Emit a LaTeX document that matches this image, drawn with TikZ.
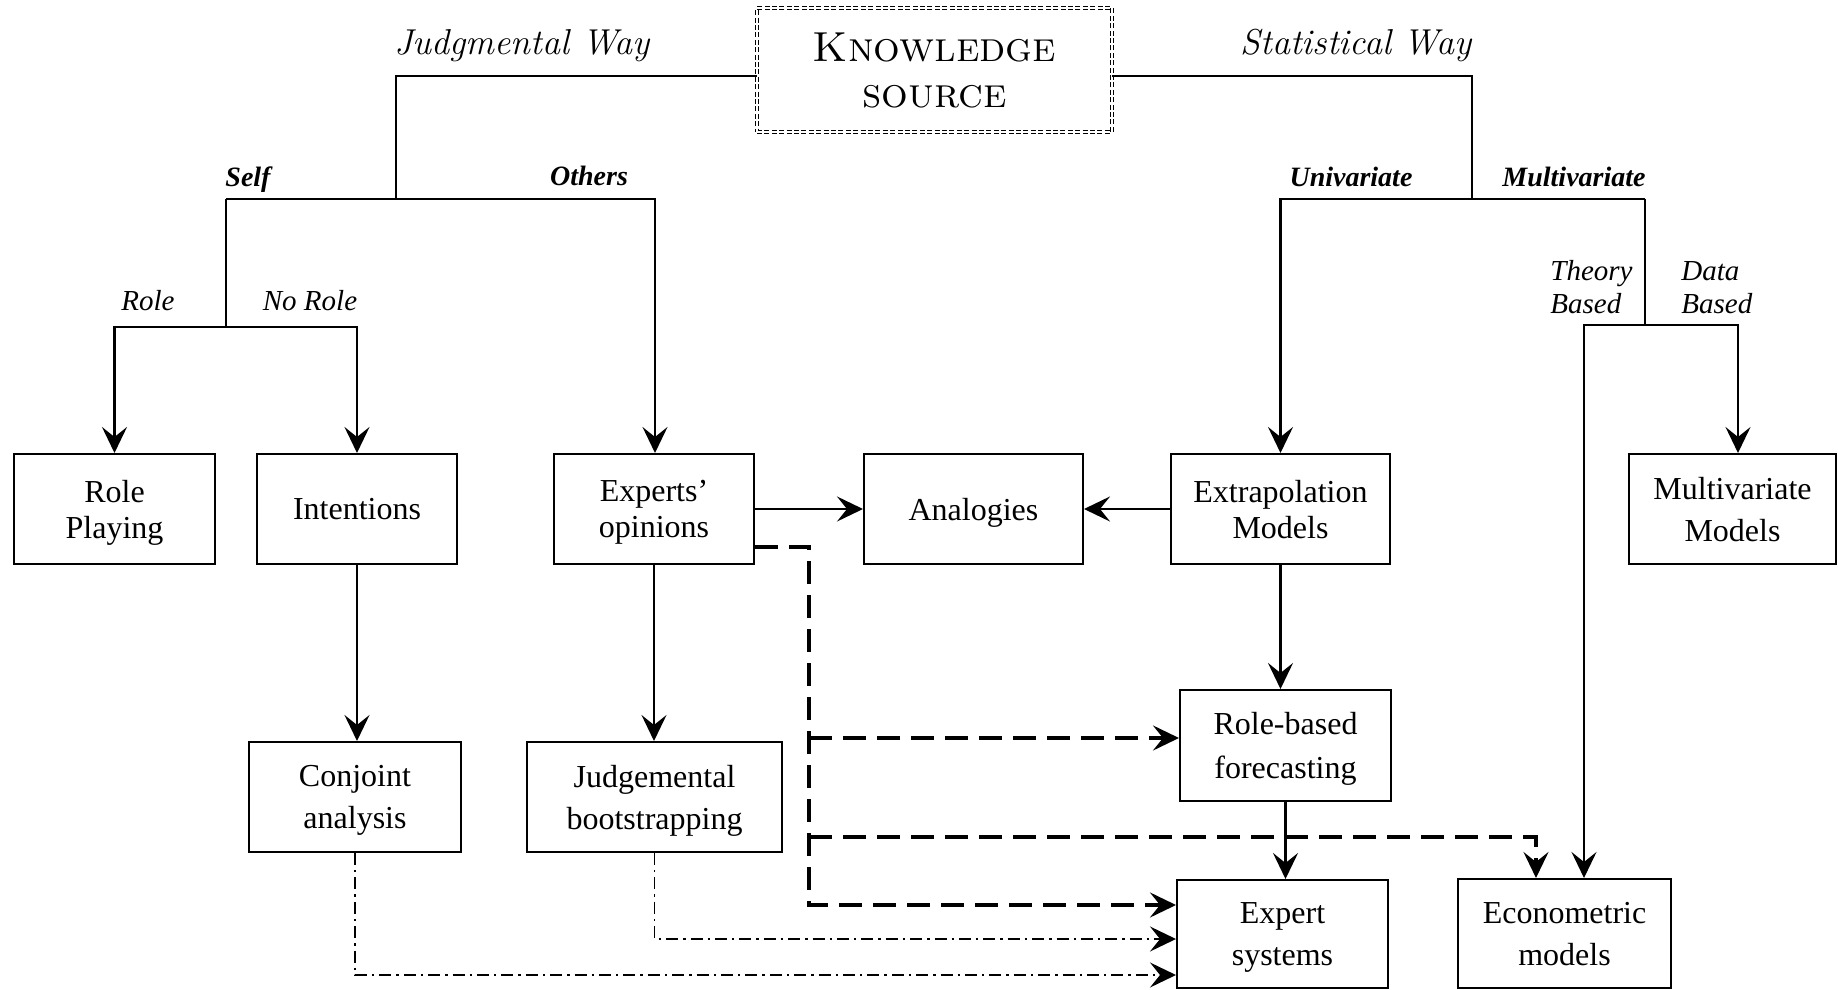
\documentclass[tikz,border=0pt]{standalone}
\usepackage{fontspec}
\newfontfamily\tnr{Liberation Serif}
\usetikzlibrary{arrows.meta}
\begin{document}
\begin{tikzpicture}[x=0.5pt,y=-0.5pt,
  >={Stealth[length=13pt,width=12.5pt,inset=5pt]},
  box/.style={draw,line width=1pt,align=center,inner sep=0pt,text depth=0pt,
    minimum height=55pt,font=\tnr\fontsize{16}{#1}\selectfont},
  box/.default=18pt,
  waylabel/.style={inner sep=0pt,anchor=base,font=\itshape\fontsize{18}{20}\selectfont},
  branchlabel/.style={inner sep=0pt,anchor=base,font=\tnr\bfseries\itshape\fontsize{14}{16}\selectfont},
  leaflabel/.style={inner sep=0pt,font=\tnr\itshape\fontsize{14.5}{16}\selectfont},
  stemline/.style={line width=0.9pt},
  arrowline/.style={line width=1.3pt},
  dashlink/.style={line width=1.7pt,dash pattern=on 11.5pt off 5.5pt},
  dotlink/.style={line width=0.9pt,dash pattern=on 6pt off 2.5pt on 1.2pt off 2.5pt},
]
\useasboundingbox (0,0) rectangle (1838,990);

% root
\node[draw,double,line width=0.45pt,double distance=0.8pt,
      dash pattern=on 2.5pt off 1.2pt,minimum width=177.5pt,minimum height=62pt,
      align=center,inner sep=0pt,text depth=0pt,
      font=\scshape\fontsize{21}{23}\selectfont] (ks) at (934.5,70) {Knowledge\\source};

% boxes
\node[box=18pt,minimum width=100.5pt]   (rp)  at (114.5,509) {Role\\Playing};
\node[box,minimum width=100pt]          (int) at (357,509)   {Intentions};
\node[box=18pt,minimum width=100pt]     (exp) at (654,509)   {Experts’\\opinions};
\node[box,minimum width=109.5pt]        (ana) at (973.5,509) {Analogies};
\node[box=18pt,minimum width=109.5pt]   (ext) at (1280.5,509) {Extrapolation\\Models};
\node[box=21pt,minimum width=103.5pt]   (mvm) at (1732.5,509) {Multivariate\\Models};
\node[box=21pt,minimum width=106pt]     (ca)  at (355,797)   {Conjoint\\analysis};
\node[box=21pt,minimum width=127.5pt]   (jb)  at (654.5,797) {Judgemental\\bootstrapping};
\node[box=22pt,minimum width=105.5pt,minimum height=55.5pt] (rb) at (1285.5,745.5) {Role-based\\forecasting};
\node[box=21pt,minimum width=105.5pt,minimum height=54pt] (es) at (1282.5,934) {Expert\\systems};
\node[box=21pt,minimum width=106.5pt,minimum height=54.5pt] (eco) at (1564.5,933.5) {Econometric\\models};

% labels
\node[waylabel] (jw) at (522,55)  {Judgmental Way};
\node[waylabel] (sw) at (1356,55) {Statistical Way};
\node[branchlabel] (lself) at (248,187)  {Self};
\node[branchlabel] (loth)  at (589,185)  {Others};
\node[branchlabel] (luni)  at (1351,187) {Univariate};
\node[branchlabel] (lmul)  at (1574,187) {Multivariate};
\node[leaflabel,anchor=base] (lrole)   at (148,310) {Role};
\node[leaflabel,anchor=base] (lnorole) at (310,310) {No Role};
\node[leaflabel,anchor=base west] (lth1) at (1550,280) {Theory};
\node[leaflabel,anchor=base west] (lth2) at (1550,313) {Based};
\node[leaflabel,anchor=base west] (lda1) at (1681,280) {Data};
\node[leaflabel,anchor=base west] (lda2) at (1681,313) {Based};

% junctions
\coordinate (jtop)    at (396,76);
\coordinate (jmid)    at (396,199);
\coordinate (selfTop) at (226,199);
\coordinate (selfBot) at (226,327);
\coordinate (othTop)  at (655,199);
\coordinate (stop)    at (1472,76);
\coordinate (smid)    at (1472,199);
\coordinate (mulTop)  at (1645,199);
\coordinate (mulBot)  at (1645,325);
\coordinate (thTop)   at (1584,325);
\coordinate (daTop)   at (1738,325);
\coordinate (dTop)    at (809,547);
\coordinate (dRb)     at (809,738);
\coordinate (dEco)    at (809,837);
\coordinate (ecoIn)   at (1536,837);
\coordinate (dBot)    at (809,905);
\coordinate (jbBot)   at (656,939);
\coordinate (caBot)   at (358,975);

% judgmental side
\draw[stemline] (jtop -| ks.west) -- (jtop) -- (jmid);
\draw[arrowline,->] (selfTop) -- (othTop) -- (othTop |- exp.north);
\draw[stemline] (selfTop) -- (selfBot);
\draw[arrowline,->] (selfBot) -| (rp);
\draw[arrowline,->] (selfBot) -| (int);

% statistical side
\draw[stemline] (stop -| ks.east) -- (stop) -- (smid);
\draw[arrowline,->] (smid) -| (ext);
\draw[arrowline] (smid) -- (mulTop);
\draw[stemline] (mulTop) -- (mulBot);
\draw[arrowline,->] (mulBot) -- (thTop) -- (thTop |- eco.north);
\draw[arrowline,->] (mulBot) -- (daTop) -- (daTop |- mvm.north);

% method links
\draw[arrowline,->] (exp) -- (ana);
\draw[arrowline,->] (ext) -- (ana);
\draw[arrowline,->] (int.south) -- (int.south |- ca.north);
\draw[arrowline,->] (exp.south) -- (exp.south |- jb.north);
\draw[arrowline,->] (ext.south) -- (ext.south |- rb.north);
\draw[arrowline,->] (rb.south) -- (rb.south |- es.north);

% expert opinion feeds
\draw[dashlink,->] (dTop -| exp.east) -- (dTop) -- (dBot) -- (dBot -| es.west);
\draw[dashlink,->] (dRb) -- (dRb -| rb.west);
\draw[dashlink,->] (dEco) -- (ecoIn) -- (ecoIn |- eco.north);

% judgement-based feeds
\draw[dotlink,->] (jb.south) -- (jb.south |- jbBot) -- (jbBot -| es.west);
\draw[dotlink,->] (ca.south) -- (ca.south |- caBot) -- (caBot -| es.west);
\end{tikzpicture}
\end{document}
